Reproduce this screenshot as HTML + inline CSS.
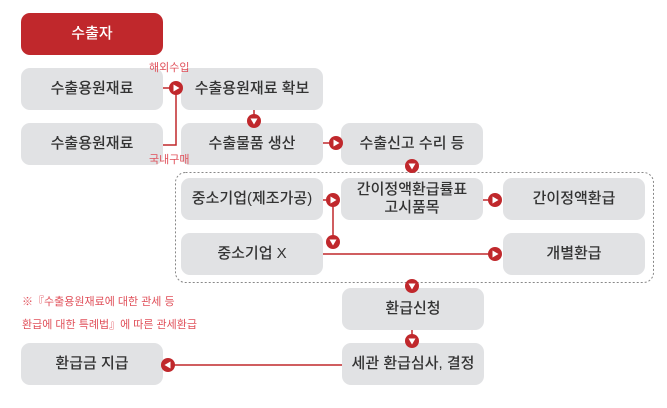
<!DOCTYPE html>
<html><head><meta charset="utf-8"><style>
body{margin:0;width:667px;height:408px;background:#fff;position:relative;overflow:hidden;font-family:"Liberation Sans","Noto Sans CJK KR",sans-serif}
.b{position:absolute;width:142px;height:42px;background:#e1e2e4;border-radius:9px;color:#333;font-size:15px;font-weight:500;display:flex;align-items:center;justify-content:center;text-align:center;line-height:18px}
.r{background:#c0282c;color:#fff}
.l{position:absolute;font-size:11px;color:#e0505a}
svg{position:absolute;left:0;top:0}
</style></head><body>
<div class="b r" style="left:21px;top:13px">수출자</div>
<div class="b" style="left:21px;top:68px">수출용원재료</div>
<div class="b" style="left:181px;top:68px">수출용원재료 확보</div>
<div class="b" style="left:21px;top:123px">수출용원재료</div>
<div class="b" style="left:181px;top:123px">수출물품 생산</div>
<div class="b" style="left:341px;top:123px">수출신고 수리 등</div>
<div class="b" style="left:181px;top:178px">중소기업(제조가공)</div>
<div class="b" style="left:341px;top:178px">간이정액환급률표<br>고시품목</div>
<div class="b" style="left:503px;top:178px">간이정액환급</div>
<div class="b" style="left:181px;top:233px">중소기업 X</div>
<div class="b" style="left:503px;top:233px">개별환급</div>
<div class="b" style="left:342px;top:288px">환급신청</div>
<div class="b" style="left:342px;top:343px">세관 환급심사, 결정</div>
<div class="b" style="left:21px;top:343px">환급금 지급</div>
<div class="l" style="left:149px;top:59px">해외수입</div>
<div class="l" style="left:149px;top:151px">국내구매</div>
<div class="l" style="left:22px;top:293px">※『수출용원재료에 대한 관세 등</div>
<div class="l" style="left:22px;top:316px">환급에 대한 특례법』에 따른 관세환급</div>
<svg width="667" height="408" viewBox="0 0 667 408">
<defs>
<g id="R"><circle r="7" fill="#c0282c"/><path d="M-2.5,-3.5 L3.5,0 L-2.5,3.5Z" fill="#fff"/></g>
<g id="D"><circle r="7" fill="#c0282c"/><path d="M-3.5,-2.5 L3.5,-2.5 L0,3.5Z" fill="#fff"/></g>
<g id="L"><circle r="7" fill="#c0282c"/><path d="M2.5,-3.5 L-3.5,0 L2.5,3.5Z" fill="#fff"/></g>
</defs>
<rect x="175.5" y="172.5" width="478" height="110" rx="10" fill="none" stroke="#888" stroke-dasharray="2,2"/>
<g stroke="#c0282c" stroke-width="1.5" fill="none">
<path d="M163,88H176M176,88V145H163"/>
<path d="M254,110V121"/>
<path d="M323,143H336"/>
<path d="M323,200H333V242"/>
<path d="M483,200H495"/>
<path d="M323,254H495"/>
<path d="M412,330V341"/>
<path d="M342,365H168"/>
</g>
<use href="#R" x="176" y="88"/>
<use href="#D" x="254" y="121"/>
<use href="#R" x="336" y="143"/>
<use href="#D" x="412" y="166"/>
<use href="#R" x="333" y="200"/>
<use href="#D" x="333" y="242"/>
<use href="#R" x="495" y="200"/>
<use href="#R" x="495" y="254"/>
<use href="#D" x="412" y="286"/>
<use href="#D" x="412" y="341"/>
<use href="#L" x="168" y="365"/>
</svg>
</body></html>
